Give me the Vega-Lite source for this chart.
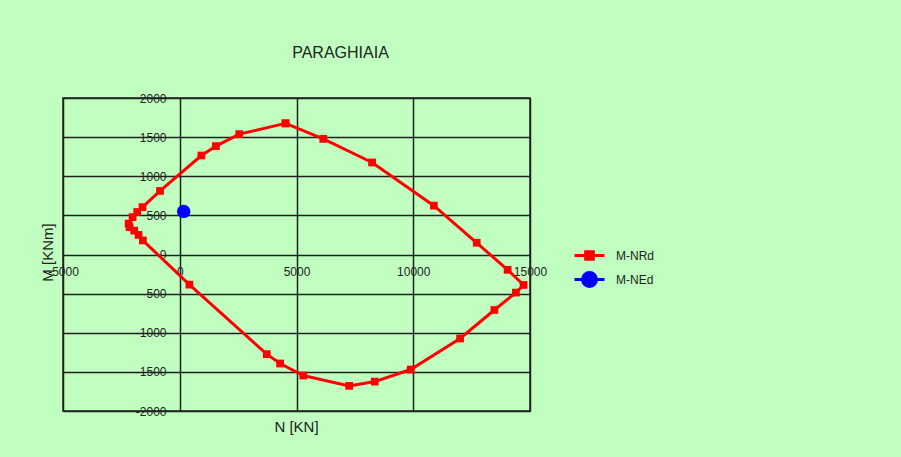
{
  "$schema": "https://vega.github.io/schema/vega-lite/v6.json",
  "autosize": "none",
  "padding": {"left": 63, "top": 98, "right": 371, "bottom": 46},
  "width": 467,
  "height": 313,
  "background": "#c0ffc0",
  "title": {
    "text": "PARAGHIAIA",
    "anchor": "middle",
    "dx": 44,
    "offset": 31,
    "font": "Liberation Sans",
    "fontSize": 16,
    "fontWeight": "normal",
    "color": "#222222"
  },
  "config": {
    "view": {"stroke": "#202020", "strokeWidth": 1.5, "fill": null},
    "font": "Liberation Sans"
  },
  "data": {
    "values": [
      {"series": "M-NRd", "i": 0, "N": 4530, "M": 1676},
      {"series": "M-NRd", "i": 1, "N": 2548, "M": 1538},
      {"series": "M-NRd", "i": 2, "N": 1549, "M": 1385},
      {"series": "M-NRd", "i": 3, "N": 926, "M": 1265},
      {"series": "M-NRd", "i": 4, "N": -845, "M": 812},
      {"series": "M-NRd", "i": 5, "N": -1595, "M": 605},
      {"series": "M-NRd", "i": 6, "N": -1822, "M": 543},
      {"series": "M-NRd", "i": 7, "N": -2020, "M": 478},
      {"series": "M-NRd", "i": 8, "N": -2190, "M": 395},
      {"series": "M-NRd", "i": 9, "N": -2150, "M": 350},
      {"series": "M-NRd", "i": 10, "N": -1950, "M": 305},
      {"series": "M-NRd", "i": 11, "N": -1765, "M": 250},
      {"series": "M-NRd", "i": 12, "N": -1579, "M": 180},
      {"series": "M-NRd", "i": 13, "N": 414, "M": -385},
      {"series": "M-NRd", "i": 14, "N": 3726, "M": -1273},
      {"series": "M-NRd", "i": 15, "N": 4298, "M": -1393},
      {"series": "M-NRd", "i": 16, "N": 5292, "M": -1547},
      {"series": "M-NRd", "i": 17, "N": 7256, "M": -1679},
      {"series": "M-NRd", "i": 18, "N": 8352, "M": -1624},
      {"series": "M-NRd", "i": 19, "N": 9889, "M": -1470},
      {"series": "M-NRd", "i": 20, "N": 12006, "M": -1073},
      {"series": "M-NRd", "i": 21, "N": 13474, "M": -709},
      {"series": "M-NRd", "i": 22, "N": 14396, "M": -487},
      {"series": "M-NRd", "i": 23, "N": 14725, "M": -389},
      {"series": "M-NRd", "i": 24, "N": 14041, "M": -196},
      {"series": "M-NRd", "i": 25, "N": 12718, "M": 150},
      {"series": "M-NRd", "i": 26, "N": 10883, "M": 624},
      {"series": "M-NRd", "i": 27, "N": 8237, "M": 1176},
      {"series": "M-NRd", "i": 28, "N": 6146, "M": 1478},
      {"series": "M-NRd", "i": 29, "N": 4530, "M": 1676},
      {"series": "M-NEd", "i": 0, "N": 169, "M": 551}
    ]
  },
  "encoding": {
    "x": {
      "field": "N", "type": "quantitative",
      "scale": {"domain": [-5000, 15000], "nice": false, "zero": false},
      "axis": {
        "orient": "bottom",
        "offset": -156.5,
        "values": [-5000, 0, 5000, 10000, 15000],
        "labelExpr": "datum.value < 0 ? '-' + format(-datum.value, 'd') : format(datum.value, 'd')",
        "ticks": false,
        "domain": false,
        "labelPadding": 12,
        "labelFontSize": 12,
        "labelColor": "#222222",
        "labelFlush": false,
        "labelOverlap": false,
        "grid": true,
        "gridColor": "#202020",
        "gridWidth": 1.5,
        "gridOpacity": 1,
        "title": "N [KN]",
        "titleFontSize": 15,
        "titleFontWeight": "normal",
        "titleColor": "#222222",
        "titleX": 233,
        "titleY": 172,
        "titleAlign": "center",
        "titleBaseline": "middle"
      }
    },
    "y": {
      "field": "M", "type": "quantitative",
      "scale": {"domain": [-2000, 2000], "nice": false, "zero": false},
      "axis": {
        "orient": "left",
        "offset": -117,
        "values": [-2000, -1500, -1000, -500, 0, 500, 1000, 1500, 2000],
        "labelExpr": "datum.value < 0 ? '-' + format(-datum.value, 'd') : format(datum.value, 'd')",
        "ticks": false,
        "domain": false,
        "labelPadding": 14,
        "labelFontSize": 12,
        "labelColor": "#222222",
        "labelFlush": false,
        "labelOverlap": false,
        "grid": true,
        "gridColor": "#202020",
        "gridWidth": 1.5,
        "gridOpacity": 1,
        "title": "M [KNm]",
        "titleFontSize": 15,
        "titleFontWeight": "normal",
        "titleColor": "#222222",
        "titleAngle": -90,
        "titleX": -133,
        "titleY": 154,
        "titleAlign": "center",
        "titleBaseline": "middle"
      }
    },
    "color": {
      "field": "series", "type": "nominal",
      "scale": {"domain": ["M-NRd", "M-NEd"], "range": ["#ff0000", "#0000ff"]},
      "legend": {
        "orient": "none",
        "legendX": 513,
        "legendY": 144,
        "title": null,
        "symbolSize": 576,
        "labelFontSize": 12,
        "labelColor": "#222222",
        "labelOffset": 13,
        "rowPadding": 0,
        "encode": {
          "symbols": {
            "update": {
              "shape": {"signal": "datum.value === 'M-NRd' ? 'M-1.25,0H1.25M-0.32,-0.32H0.32V0.32H-0.32Z' : 'M-1.25,0H1.25M-0.58,0A0.58,0.58,0,1,0,0.58,0A0.58,0.58,0,1,0,-0.58,0Z'"},
              "size": {"value": 576},
              "fill": {"scale": "color", "field": "value"},
              "stroke": {"scale": "color", "field": "value"},
              "strokeWidth": {"value": 3},
              "opacity": {"value": 1},
              "fillOpacity": {"value": 1},
              "strokeOpacity": {"value": 1}
            }
          }
        }
      }
    }
  },
  "layer": [
    {
      "transform": [{"filter": "datum.series === 'M-NRd'"}],
      "mark": {"type": "line", "strokeWidth": 3, "clip": true},
      "encoding": {"order": {"field": "i", "type": "quantitative"}}
    },
    {
      "transform": [{"filter": "datum.series === 'M-NRd'"}],
      "mark": {"type": "point", "shape": "square", "filled": true, "size": 60, "opacity": 1}
    },
    {
      "transform": [{"filter": "datum.series === 'M-NEd'"}],
      "mark": {"type": "point", "shape": "circle", "filled": true, "size": 180, "opacity": 1}
    }
  ]
}
